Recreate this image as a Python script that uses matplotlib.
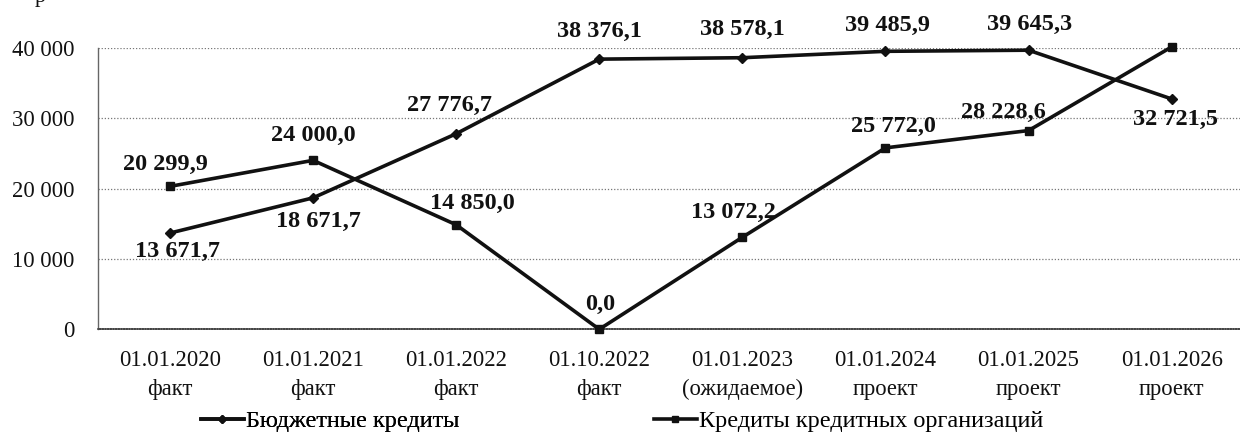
import matplotlib
matplotlib.use("Agg")
import matplotlib.pyplot as plt
from matplotlib.lines import Line2D

plt.rcParams['font.family'] = ['Liberation Serif', 'DejaVu Serif']

categories = ["01.01.2020\nфакт", "01.01.2021\nфакт", "01.01.2022\nфакт", "01.10.2022\nфакт",
              "01.01.2023\n(ожидаемое)", "01.01.2024\nпроект", "01.01.2025\nпроект", "01.01.2026\nпроект"]
budget = [13671.7, 18671.7, 27776.7, 38376.1, 38578.1, 39485.9, 39645.3, 32721.5]
credit = [20299.9, 24000.0, 14850.0, 0.0, 13072.2, 25772.0, 28228.6, 40111.6]
yticks = [0, 10000, 20000, 30000, 40000]
ytick_labels = ["0", "10 000", "20 000", "30 000", "40 000"]
name_budget = "Бюджетные кредиты"
name_credit = "Кредиты кредитных организаций"

# label offsets in pixels (dx, dy)
off_budget = [(8, -18), (5, -24), (-7, 28), (0, 28), (0, 28), (2, 26), (1, 26), (4, -21)]
off_credit = [(-5, 22), (0, 25), (16, 21), (1, 25), (-9, 25), (8, 21), (-25, 18), (3, 20)]

W, H = 1240, 436
fig = plt.figure(figsize=(W / 100, H / 100), dpi=100)
ax = fig.add_axes([98.4 / W, 1 - 329.3 / H, 1144.8 / W, (329.3 - 47.7) / H])

x = list(range(len(categories)))
l1, = ax.plot(x, budget, color='#111111', lw=2.6, marker='D', ms=5, clip_on=False, zorder=3)
l2, = ax.plot(x, credit, color='#111111', lw=2.6, marker='s', ms=6, clip_on=False, zorder=3)

def fmt(v):
    s = f"{v:,.1f}".replace(",", " ").replace(".", ",")
    return s

for xi, v, (dx, dy) in zip(x, budget, off_budget):
    ax.annotate(fmt(v), (xi, v), xytext=(dx, dy), textcoords='offset pixels',
                ha='center', va='center', fontsize=17.5, fontweight='bold', color='#111111')
for xi, v, (dx, dy) in zip(x, credit, off_credit):
    ax.annotate(fmt(v), (xi, v), xytext=(dx, dy), textcoords='offset pixels',
                ha='center', va='center', fontsize=17.5, fontweight='bold', color='#111111')

ax.set_xlim(-0.5, 7.5)
ax.set_ylim(0, 40000)
ax.set_yticks(yticks)
ax.set_yticklabels(ytick_labels, fontsize=16.3)
ax.set_xticks(x)
ax.set_xticklabels(categories, fontsize=16.3, linespacing=1.5)
ax.tick_params(axis='both', length=0, colors='#111111')
ax.tick_params(axis='y', pad=17)
ax.tick_params(axis='x', pad=15)

for yv in yticks[1:]:
    ax.axhline(yv, color='#777777', lw=0.9, ls=(0, (1, 1.5)), zorder=1)
for s in ['top', 'right']:
    ax.spines[s].set_visible(False)
ax.spines['left'].set_color('#666666')
ax.spines['left'].set_linestyle((0, (1, 1)))
ax.spines['left'].set_linewidth(1.0)
ax.spines['bottom'].set_color('#444444')
ax.spines['bottom'].set_linestyle((0, (1, 0.6)))
ax.spines['bottom'].set_linewidth(1.2)

h1 = Line2D([], [], color='#111111', lw=2.6, marker='D', ms=4)
h2 = Line2D([], [], color='#111111', lw=2.6, marker='s', ms=5)
leg1 = fig.legend([h1], [name_budget], loc='center left', bbox_to_anchor=(201 / W, 1 - 421 / H),
                  frameon=False, fontsize=17.5, handlelength=1.75, handletextpad=0.12,
                  borderpad=0, borderaxespad=0)
leg2 = fig.legend([h2], [name_credit], loc='center left', bbox_to_anchor=(654 / W, 1 - 421 / H),
                  frameon=False, fontsize=17.5, handlelength=1.75, handletextpad=0.12,
                  borderpad=0, borderaxespad=0)
fig.add_artist(leg1)

fig.text(40 / W, 1 - 2 / H, "р", fontsize=16, ha='center', va='baseline', color='#111111')

fig.savefig("out.png", dpi=100)
